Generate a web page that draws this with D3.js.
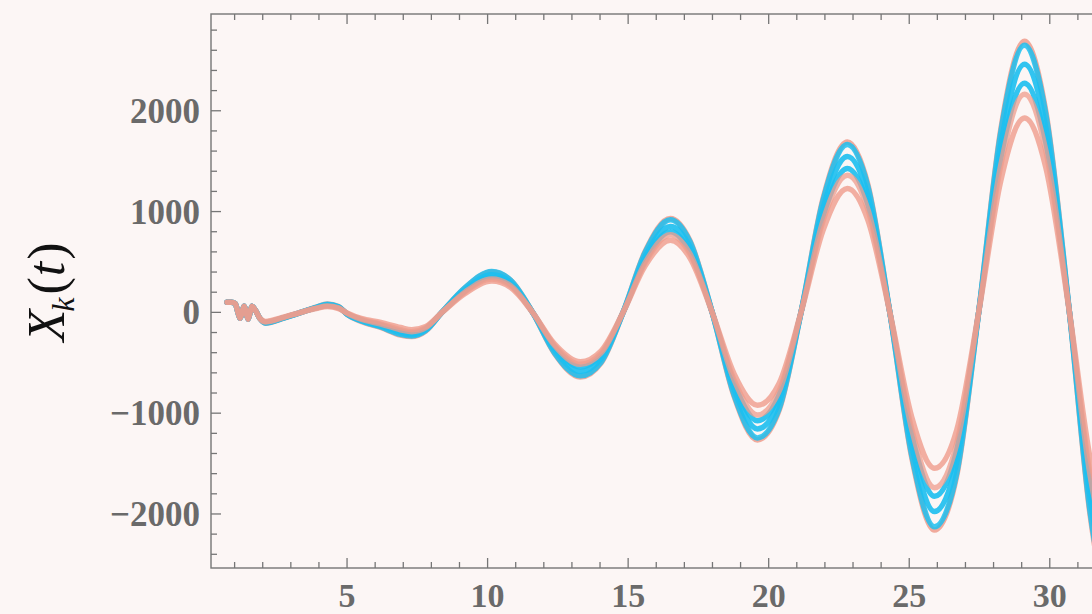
<!DOCTYPE html>
<html>
<head>
<meta charset="utf-8">
<script src="https://cdn.jsdelivr.net/npm/d3@7"></script>
<style>
  html, body { margin: 0; padding: 0; background: #fcf6f5; overflow: hidden; }
  svg { display: block; }
</style>
</head>
<body>
<svg id="chart" width="1092" height="614"></svg>
<script>
// Sample times shared by every series
const tValues = [
  0.73, 0.88, 1.02, 1.11, 1.19, 1.27, 1.34, 1.41, 1.48, 1.55, 1.62, 1.75, 1.9,
  2.1, 2.7, 3.3, 3.9, 4.3, 4.7, 5.0, 5.5, 6.2, 6.9, 7.3, 7.8, 8.4,
  9.2, 10.15, 10.82, 11.6, 12.38, 13.3, 14.04, 14.82, 15.6, 16.5, 17.2, 17.99,
  18.77, 19.6, 20.37, 21.15, 21.93, 22.8, 23.53, 24.31, 25.09, 25.9, 26.69,
  27.47, 28.25, 29.1, 29.86, 30.7, 31.43, 32.2
];

// Early transient common to all modes (t < 2)
const startWiggle = [101, 100, 88, 10, -58, 5, 61, 0, -68, 0, 61, 15, -60];

// X_k(t) for each mode
const seriesA = startWiggle.concat([
  -108, -62, -8, 52, 82, 58, -20, -90, -150, -225, -240, -185, 10,
  244, 400, 318, 0, -407, -640, -500, 0, 601, 932, 711, 0,
  -834, -1265, -972, 0, 1124, 1690, 1266, 0, -1442, -2160, -1619,
  0, 1803, 2690, 1994, 0, -2000, -3100]);
const seriesB = startWiggle.concat([
  -106, -60, -7, 50, 80, 56, -18, -86, -145, -218, -234, -180, 10,
  246, 405, 318, 0, -401, -630, -493, 0, 592, 918, 700, 0,
  -821, -1246, -957, 0, 1107, 1665, 1247, 0, -1420, -2128, -1595,
  0, 1776, 2650, 1964, 0, -1970, -3050]);
const seriesC = startWiggle.concat([
  -102, -58, -5, 47, 74, 52, -15, -80, -135, -200, -220, -170, 8,
  227, 372, 296, 0, -372, -586, -458, 0, 550, 853, 651, 0,
  -763, -1157, -889, 0, 1028, 1546, 1158, 0, -1319, -1976, -1481,
  0, 1650, 2461, 1825, 0, -1830, -2840]);
const seriesD = startWiggle.concat([
  -98, -56, -4, 44, 68, 47, -12, -73, -124, -185, -205, -160, 7,
  212, 348, 277, 0, -344, -541, -423, 0, 508, 800, 601, 0,
  -705, -1075, -821, 0, 950, 1428, 1070, 0, -1218, -1825, -1368,
  0, 1524, 2273, 1685, 0, -1690, -2620]);
const seriesE = startWiggle.concat([
  -95, -54, -4, 42, 63, 44, -10, -68, -116, -172, -192, -152, 6,
  203, 332, 264, 0, -328, -515, -403, 0, 490, 770, 580, 0,
  -671, -1018, -782, 0, 905, 1360, 1019, 0, -1161, -1739, -1303,
  0, 1451, 2165, 1605, 0, -1610, -2500]);
const seriesF = startWiggle.concat([
  -90, -50, -4, 38, 57, 38, -5, -60, -100, -150, -172, -140, 5,
  188, 310, 246, 0, -312, -490, -382, 0, 460, 716, 540, 0,
  -610, -921, -705, 0, 812, 1230, 915, 0, -1040, -1546, -1166,
  0, 1298, 1928, 1436, 0, -1440, -2230]);

// Drawing order: outer salmon mode, cyan modes, inner salmon modes
const seriesList = [seriesA, seriesB, seriesC, seriesD, seriesE, seriesF];
const salmon = "#ef9c8c";
const cyan = "#1cbff0";
const seriesColors = [salmon, cyan, cyan, cyan, salmon, salmon];
const seriesOpacity = [0.85, 0.85, 0.9, 0.9, 0.75, 0.8];

const xMajorTicks = [5, 10, 15, 20, 25, 30];
const yMajorTicks = [-2000, -1000, 0, 1000, 2000];
const xMinorTicks = d3.range(1, 33, 1);
const yMinorTicks = d3.range(-2400, 2801, 200);

// Frame geometry
const frame = { left: 211, top: 14, right: 1106, bottom: 568 };

const x = d3.scaleLinear().domain([0.16, 32]).range([frame.left, frame.right]);
const y = d3.scaleLinear().domain([-2536, 2960]).range([frame.bottom, frame.top]);

const svg = d3.select("#chart");
svg.append("rect").attr("width", 1092).attr("height", 614).attr("fill", "#fcf6f5");

svg.append("defs").append("clipPath").attr("id", "plotClip")
  .append("rect")
  .attr("x", frame.left).attr("y", frame.top)
  .attr("width", frame.right - frame.left).attr("height", frame.bottom - frame.top);

const line = d3.line()
  .x((d, i) => x(tValues[i]))
  .y(d => y(d))
  .curve(d3.curveMonotoneX);

const curves = svg.append("g").attr("clip-path", "url(#plotClip)");
seriesList.forEach((s, k) => {
  curves.append("path")
    .datum(s)
    .attr("d", line)
    .attr("fill", "none")
    .attr("stroke", seriesColors[k])
    .attr("stroke-opacity", seriesOpacity[k])
    .attr("stroke-width", 5.5)
    .attr("stroke-linejoin", "round")
    .attr("stroke-linecap", "round");
});

// Frame and ticks
const axisColor = "#767676";
svg.append("rect")
  .attr("x", frame.left).attr("y", frame.top)
  .attr("width", frame.right - frame.left).attr("height", frame.bottom - frame.top)
  .attr("fill", "none").attr("stroke", axisColor).attr("stroke-width", 1.4);

const ticks = svg.append("g").attr("stroke", axisColor).attr("stroke-width", 1.3);
xMinorTicks.forEach(t => {
  const len = xMajorTicks.includes(t) ? 10 : 6;
  ticks.append("line").attr("x1", x(t)).attr("x2", x(t))
    .attr("y1", frame.bottom).attr("y2", frame.bottom - len);
  ticks.append("line").attr("x1", x(t)).attr("x2", x(t))
    .attr("y1", frame.top).attr("y2", frame.top + len);
});
yMinorTicks.forEach(v => {
  const len = yMajorTicks.includes(v) ? 10 : 6;
  ticks.append("line").attr("y1", y(v)).attr("y2", y(v))
    .attr("x1", frame.left).attr("x2", frame.left + len);
});

const labelFont = "'Liberation Serif', 'Times New Roman', serif";
svg.append("g").selectAll("text").data(xMajorTicks).join("text")
  .attr("x", d => x(d)).attr("y", 607)
  .attr("text-anchor", "middle")
  .attr("font-family", labelFont).attr("font-weight", "bold")
  .attr("font-size", 34).attr("fill", "#6a6a6a")
  .text(d => d);

svg.append("g").selectAll("text").data(yMajorTicks).join("text")
  .attr("x", 200).attr("y", d => y(d) + 12)
  .attr("text-anchor", "end")
  .attr("font-family", labelFont).attr("font-weight", "bold")
  .attr("font-size", 35).attr("fill", "#6a6a6a")
  .text(d => d < 0 ? "\u2212" + Math.abs(d) : d);

// Axis title X_k(t)
const title = svg.append("text")
  .attr("transform", "translate(64,292) rotate(-90)")
  .attr("text-anchor", "middle")
  .attr("font-family", labelFont).attr("font-style", "italic")
  .attr("font-size", 52).attr("fill", "#111");
title.append("tspan").text("X");
title.append("tspan").attr("font-size", 32).attr("dy", 10).attr("dx", -2).text("k");
title.append("tspan").attr("dy", -10).attr("dx", 3).attr("font-style", "normal").text("(");
title.append("tspan").attr("dx", 1).text("t");
title.append("tspan").attr("dx", 2).attr("font-style", "normal").text(")");
</script>
</body>
</html>
